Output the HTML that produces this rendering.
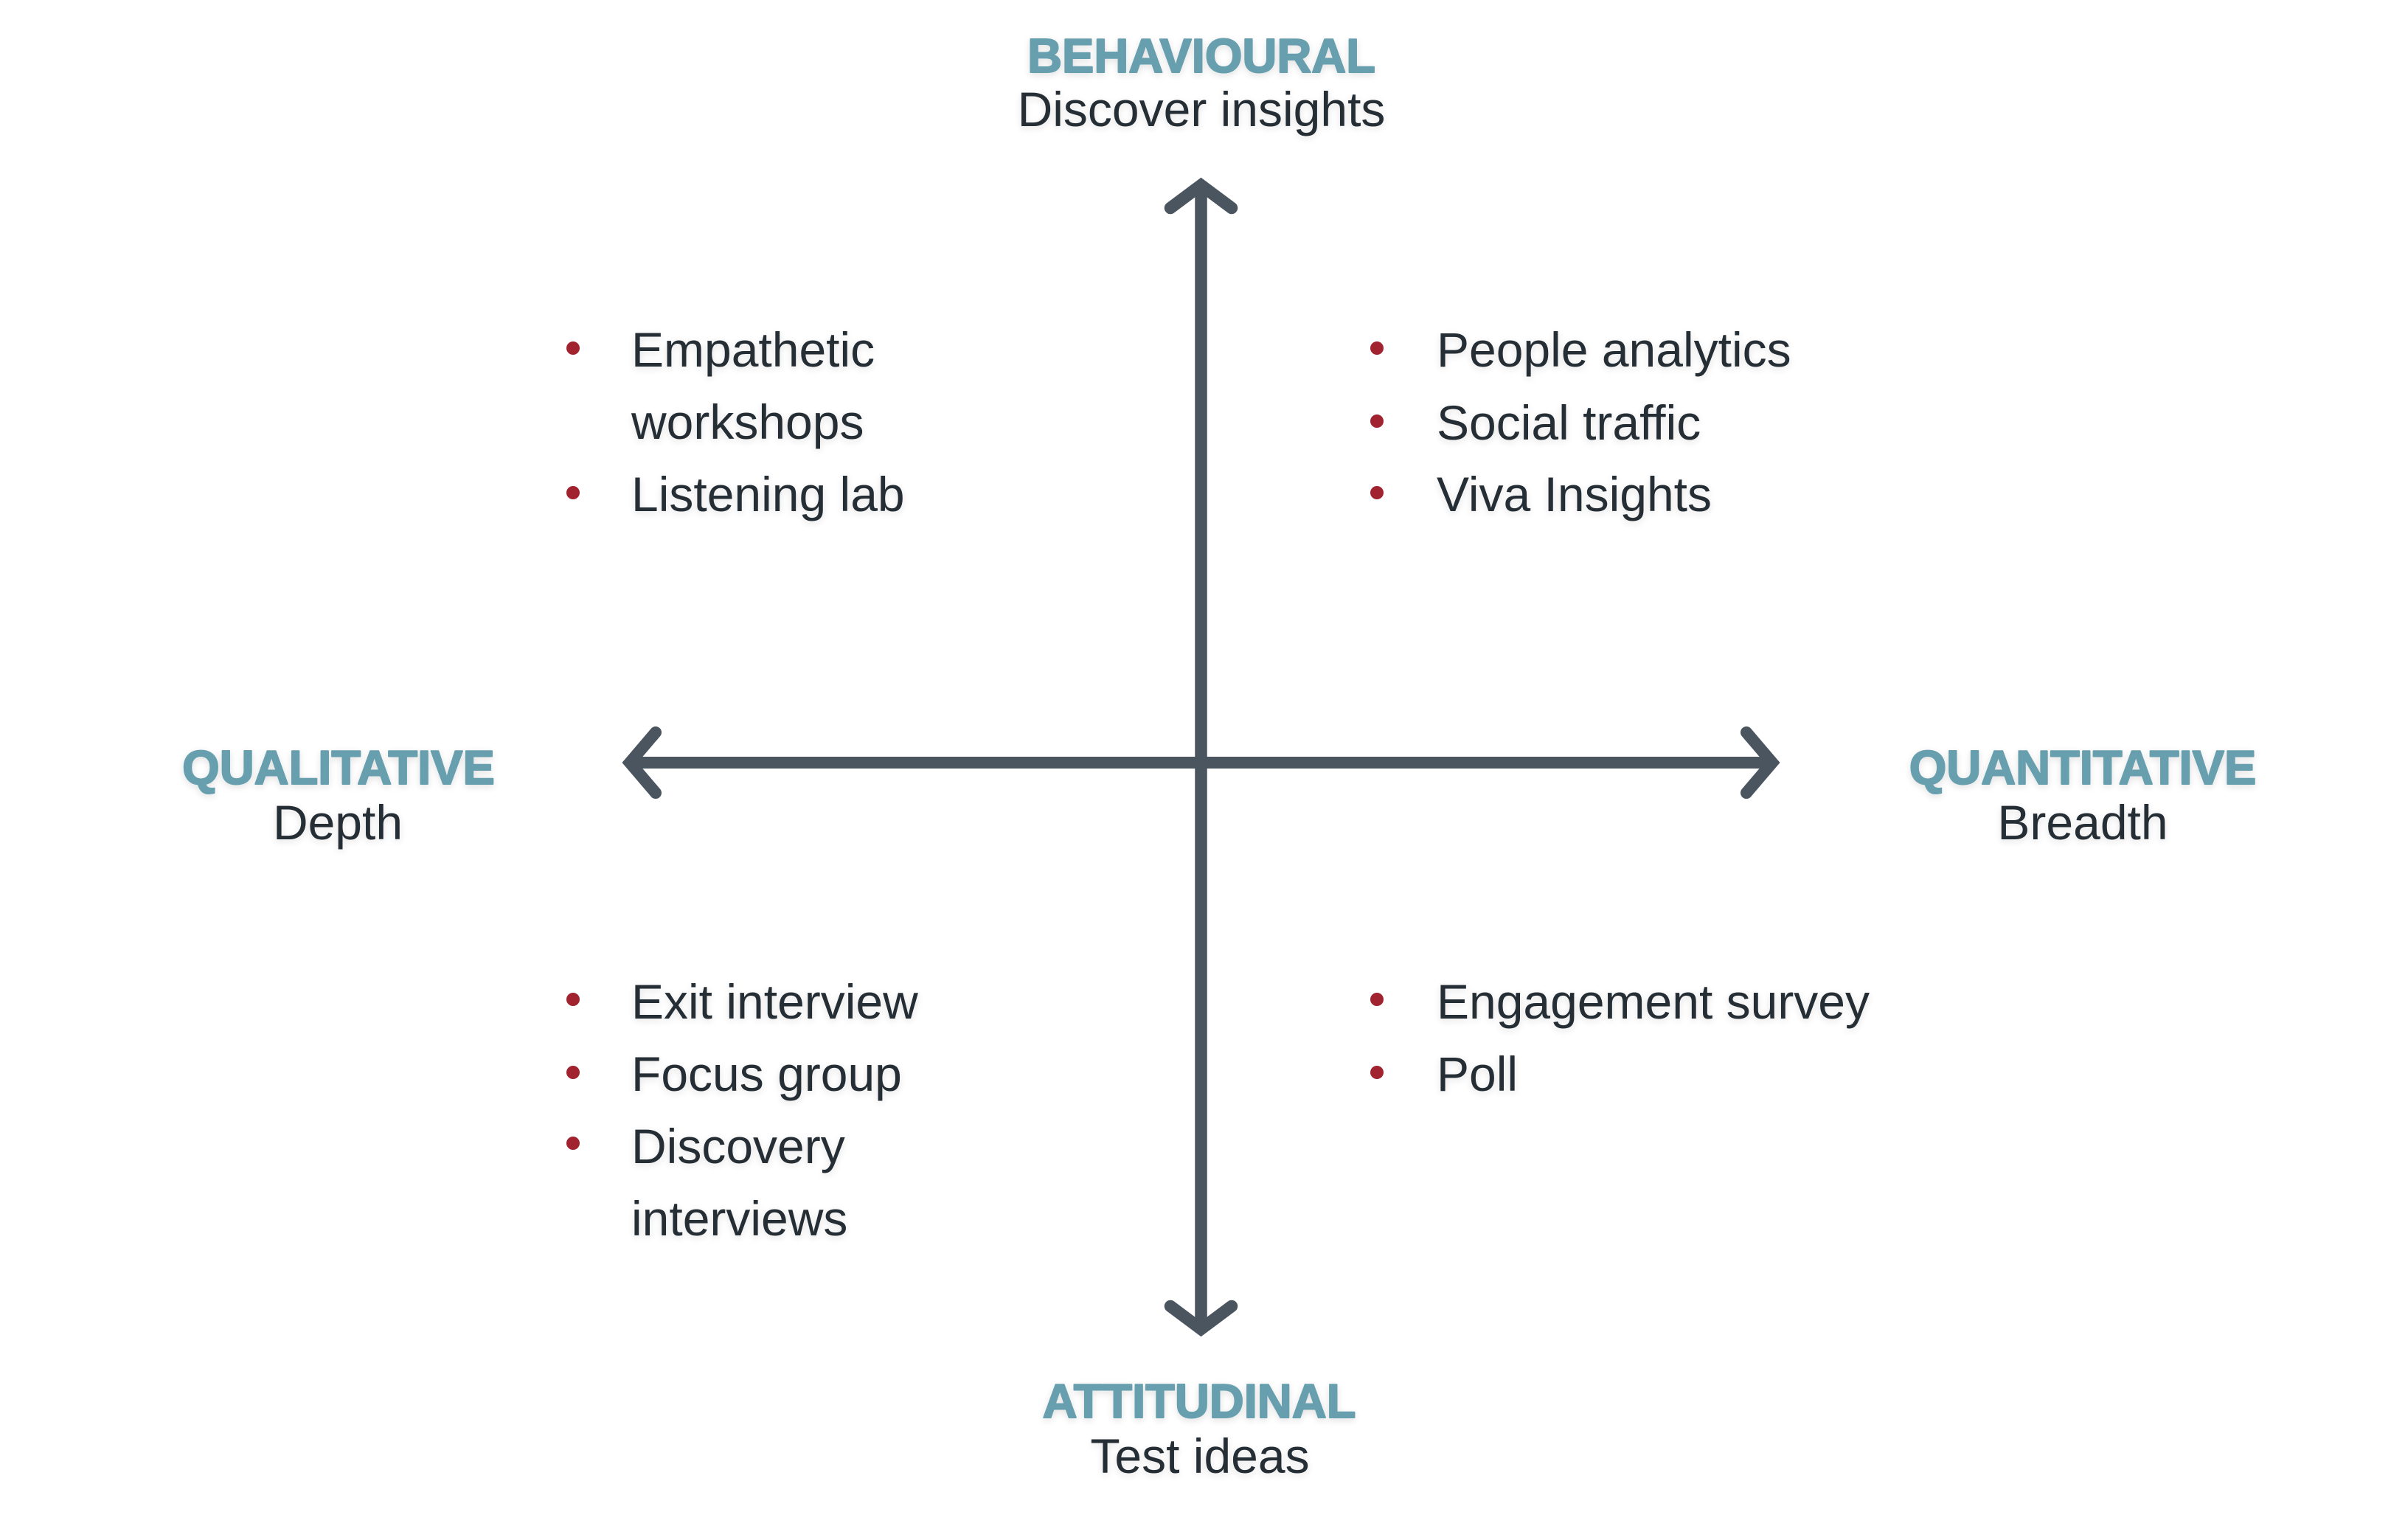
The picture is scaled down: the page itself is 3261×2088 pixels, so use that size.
<!DOCTYPE html>
<html>
<head>
<meta charset="utf-8">
<style>
  html, body { margin: 0; padding: 0; background: #ffffff; }
  body { width: 3261px; height: 2088px; overflow: hidden; }
  svg { display: block; }
  .hd { font-family: "Liberation Sans", sans-serif; font-weight: bold; font-size: 65px; fill: #679fae; stroke: #679fae; stroke-width: 2px; stroke-linejoin: round; }
  .sub { font-family: "Liberation Sans", sans-serif; font-size: 66px; fill: #262d34; }
  .li { font-family: "Liberation Sans", sans-serif; font-size: 66px; fill: #262d34; }
  text { filter: url(#glow); }
</style>
</head>
<body>
<svg width="3261" height="2088" viewBox="0 0 3261 2088" xmlns="http://www.w3.org/2000/svg">
  <defs>
    <filter id="glow" x="-10%" y="-30%" width="120%" height="160%">
      <feGaussianBlur in="SourceAlpha" stdDeviation="5"/>
      <feOffset dx="0" dy="3" result="b"/>
      <feComponentTransfer><feFuncA type="linear" slope="0.12"/></feComponentTransfer>
      <feMerge><feMergeNode/><feMergeNode in="SourceGraphic"/></feMerge>
    </filter>
  </defs>
  <rect x="0" y="0" width="3261" height="2088" fill="#ffffff"/>

  <!-- Axes -->
  <g stroke="#4a5560" fill="none">
    <line x1="1628.5" y1="251" x2="1628.5" y2="1802" stroke-width="16.5"/>
    <line x1="854" y1="1034" x2="2403" y2="1034" stroke-width="16"/>
    <polyline points="1587,282 1628.5,251 1670,282" stroke-width="16.5" stroke-linecap="round" stroke-linejoin="miter"/>
    <polyline points="1587,1771 1628.5,1802 1670,1771" stroke-width="16.5" stroke-linecap="round" stroke-linejoin="miter"/>
    <polyline points="889,993 854,1034 889,1075" stroke-width="16" stroke-linecap="round" stroke-linejoin="miter"/>
    <polyline points="2368,993 2403,1034 2368,1075" stroke-width="16" stroke-linecap="round" stroke-linejoin="miter"/>
  </g>

  <!-- Axis labels -->
  <text class="hd" x="1629" y="98" text-anchor="middle">BEHAVIOURAL</text>
  <text class="sub" x="1629" y="171" text-anchor="middle">Discover insights</text>

  <text class="hd" x="1626" y="1922" text-anchor="middle">ATTITUDINAL</text>
  <text class="sub" x="1627" y="1997" text-anchor="middle">Test ideas</text>

  <text class="hd" x="459" y="1063" text-anchor="middle">QUALITATIVE</text>
  <text class="sub" x="458" y="1138" text-anchor="middle">Depth</text>

  <text class="hd" x="2824" y="1063" text-anchor="middle">QUANTITATIVE</text>
  <text class="sub" x="2824" y="1138" text-anchor="middle">Breadth</text>

  <!-- Bullets -->
  <g fill="#a0232f">
    <circle cx="777" cy="472" r="9"/>
    <circle cx="777" cy="668" r="9"/>
    <circle cx="1867" cy="472" r="9"/>
    <circle cx="1867" cy="571" r="9"/>
    <circle cx="1867" cy="668" r="9"/>
    <circle cx="777" cy="1355" r="9"/>
    <circle cx="777" cy="1454" r="9"/>
    <circle cx="777" cy="1550" r="9"/>
    <circle cx="1867" cy="1355" r="9"/>
    <circle cx="1867" cy="1454" r="9"/>
  </g>

  <!-- Top-left list -->
  <text class="li" x="856" y="497">Empathetic</text>
  <text class="li" x="856" y="595">workshops</text>
  <text class="li" x="856" y="693">Listening lab</text>

  <!-- Top-right list -->
  <text class="li" x="1948" y="497">People analytics</text>
  <text class="li" x="1948" y="596">Social traffic</text>
  <text class="li" x="1948" y="693">Viva Insights</text>

  <!-- Bottom-left list -->
  <text class="li" x="856" y="1381">Exit interview</text>
  <text class="li" x="856" y="1479">Focus group</text>
  <text class="li" x="856" y="1577">Discovery</text>
  <text class="li" x="856" y="1675">interviews</text>

  <!-- Bottom-right list -->
  <text class="li" x="1948" y="1381">Engagement survey</text>
  <text class="li" x="1948" y="1479">Poll</text>
</svg>
</body>
</html>
